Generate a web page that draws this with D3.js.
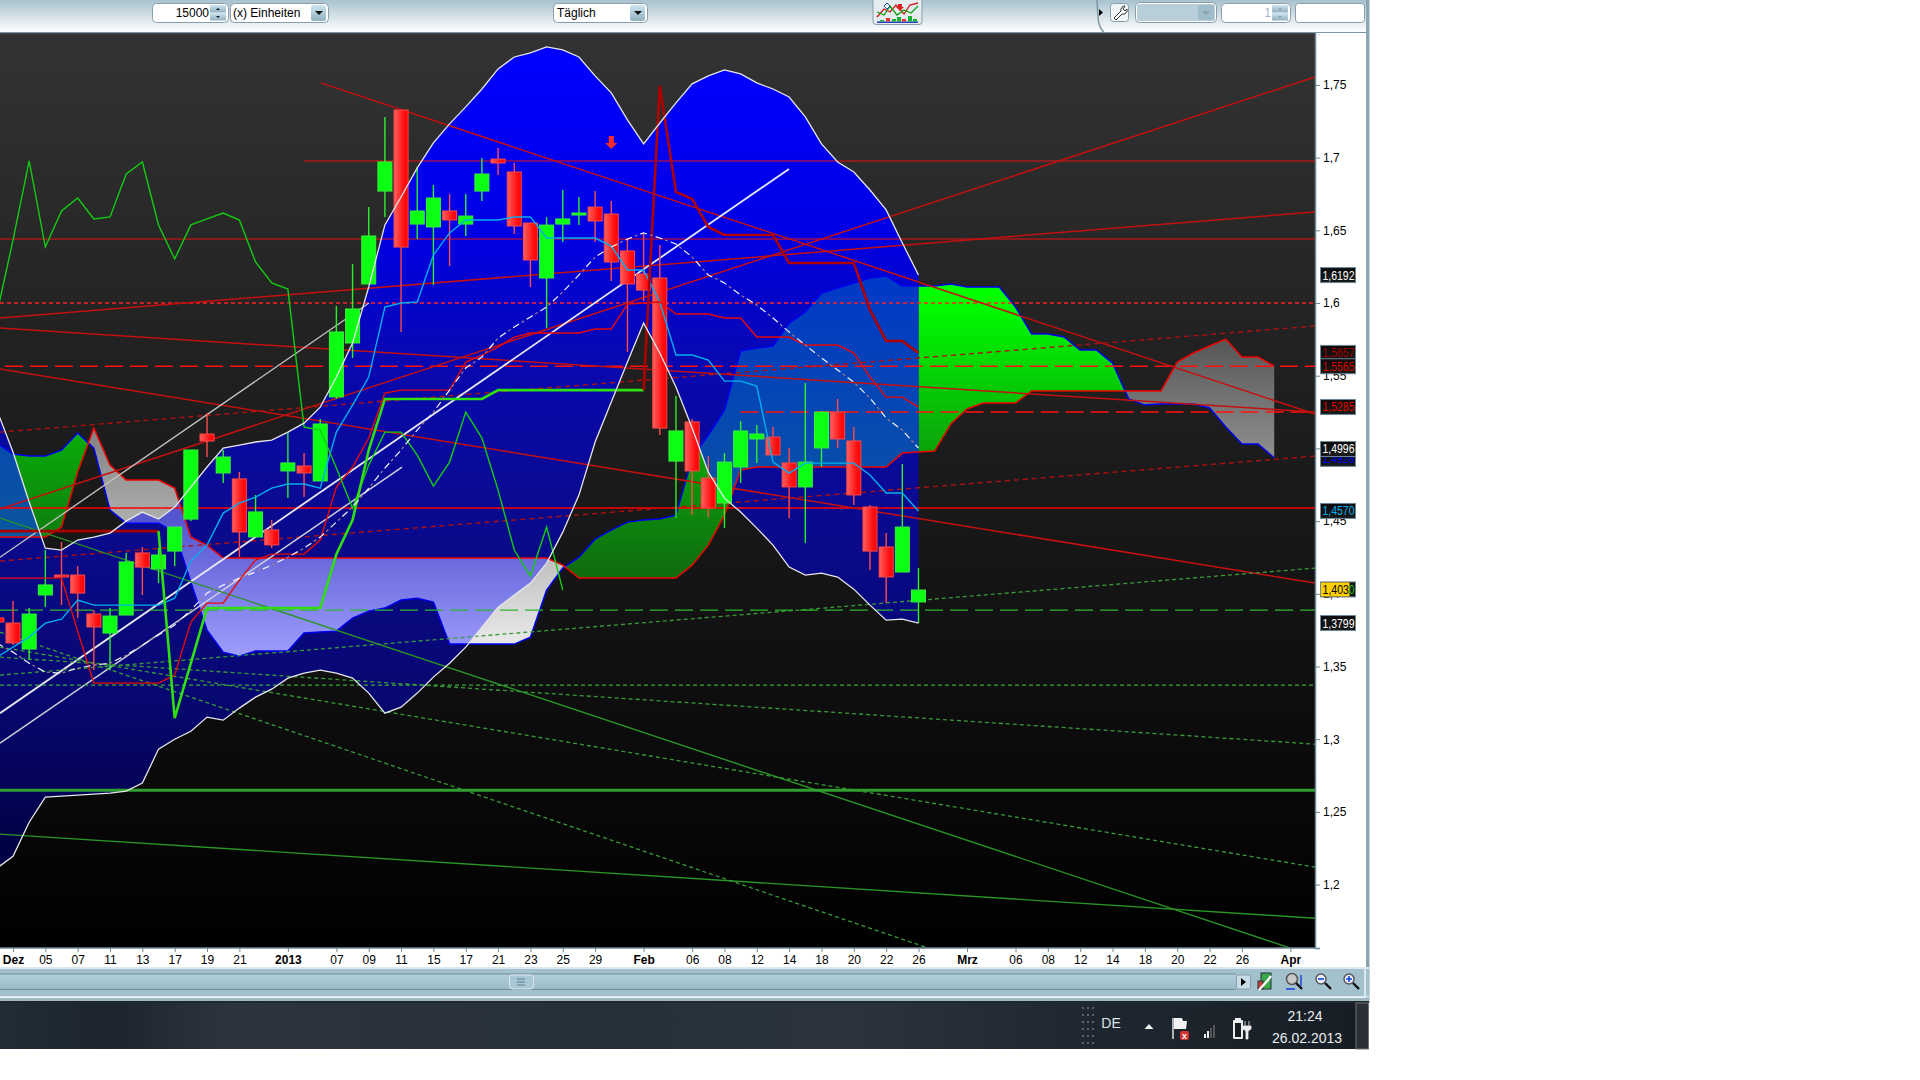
<!DOCTYPE html>
<html><head><meta charset="utf-8">
<style>html,body{margin:0;padding:0;background:#fff;overflow:hidden}svg{display:block;font-family:"Liberation Sans",Arial,sans-serif}</style>
<script src="https://cdn.jsdelivr.net/npm/d3@7/dist/d3.min.js"></script>
</head><body><svg id="c" width="1920" height="1080"></svg>
<script>
// ---------- data: daily candles, first index -1 ----------
const firstIdx=-1;
const open=[1.3834,1.3799,1.3620,1.3992,1.4129,1.4129,1.3861,1.3730,1.3854,1.4281,1.4171,1.4294,1.4514,1.5099,1.4831,1.4790,1.4391,1.4439,1.4845,1.4879,1.4776,1.5354,1.5725,1.6131,1.6770,1.7327,1.6543,1.6523,1.6633,1.6543,1.6770,1.6990,1.6901,1.6550,1.6172,1.6543,1.6612,1.6660,1.6612,1.6358,1.6199,1.6172,1.4913,1.5182,1.4796,1.4624,1.4872,1.5065,1.5078,1.4900,1.4735,1.5003,1.5250,1.5051,1.4597,1.4322,1.4150,1.3944];
const high=[1.3834,1.3950,1.3902,1.4301,1.4356,1.4191,1.3889,1.3902,1.4281,1.4322,1.4315,1.4459,1.4989,1.5243,1.4989,1.4838,1.4680,1.4508,1.5113,1.4968,1.5202,1.5979,1.6268,1.6660,1.7279,1.7327,1.6935,1.6812,1.6750,1.6750,1.6997,1.7066,1.6963,1.6550,1.6591,1.6777,1.6729,1.6770,1.6702,1.6447,1.6475,1.6399,1.5360,1.5202,1.4948,1.4968,1.5188,1.5161,1.5147,1.5003,1.5450,1.5257,1.5340,1.5147,1.4611,1.4418,1.4893,1.4177];
const low=[1.3806,1.3648,1.3545,1.3909,1.3923,1.3834,1.3476,1.3476,1.3854,1.3992,1.4074,1.4191,1.4501,1.4941,1.4762,1.4253,1.4391,1.4315,1.4659,1.4666,1.4776,1.5340,1.5622,1.6131,1.6591,1.5801,1.6440,1.6124,1.6254,1.6461,1.6702,1.6880,1.6475,1.6110,1.5828,1.6420,1.6536,1.6420,1.6151,1.5663,1.6014,1.5092,1.4521,1.4542,1.4528,1.4453,1.4762,1.4900,1.4955,1.4521,1.4349,1.4872,1.5003,1.4611,1.4164,1.3937,1.4150,1.3799];
const close=[1.3806,1.3662,1.3861,1.4061,1.4116,1.4005,1.3772,1.3847,1.4219,1.4184,1.4267,1.4459,1.4989,1.5051,1.4941,1.4425,1.4563,1.4336,1.4900,1.4831,1.5168,1.5801,1.5959,1.6461,1.6970,1.6385,1.6633,1.6722,1.6571,1.6598,1.6887,1.6963,1.6530,1.6296,1.6536,1.6578,1.6619,1.6564,1.6282,1.6131,1.6089,1.5140,1.5120,1.4845,1.4590,1.4906,1.5120,1.5099,1.4955,1.4735,1.4906,1.5250,1.5065,1.4680,1.4294,1.4116,1.4459,1.4026];
const upper=[1.5264,1.4975,1.4631,1.4314,1.4301,1.4370,1.4390,1.4418,1.4500,1.4562,1.4514,1.4597,1.4734,1.4872,1.5002,1.5023,1.5044,1.5057,1.5112,1.5174,1.5284,1.5491,1.5725,1.6110,1.6537,1.6729,1.6929,1.7101,1.7232,1.7349,1.7472,1.7610,1.7692,1.7720,1.7761,1.7741,1.7692,1.7562,1.7445,1.7259,1.7094,1.7238,1.7376,1.7507,1.7562,1.7603,1.7576,1.7514,1.7472,1.7417,1.7280,1.7094,1.6970,1.6901,1.6777,1.6640,1.6413,1.6193];
const lower=[1.2113,1.2195,1.2429,1.2601,1.2608,1.2615,1.2622,1.2629,1.2643,1.2698,1.2932,1.3000,1.3055,1.3152,1.3131,1.3214,1.3289,1.3344,1.3420,1.3454,1.3475,1.3454,1.3420,1.3317,1.3179,1.3220,1.3317,1.3427,1.3523,1.3633,1.3771,1.3908,1.3991,1.4074,1.4211,1.4424,1.4679,1.5044,1.5319,1.5594,1.5862,1.5656,1.5422,1.5140,1.4837,1.4658,1.4562,1.4452,1.4335,1.4184,1.4129,1.4142,1.4115,1.4032,1.3922,1.3819,1.3826,1.3798];
const senkouA=[1.5037,1.4961,1.4947,1.4947,1.4989,1.5106,1.5002,1.4576,1.4486,1.4486,1.4486,1.4424,1.4080,1.3750,1.3599,1.3571,1.3606,1.3606,1.3606,1.3730,1.3737,1.3743,1.3833,1.3881,1.3902,1.3957,1.3970,1.3943,1.3654,1.3654,1.3654,1.3654,1.3654,1.3702,1.4025,1.4177,1.4252,1.4376,1.4438,1.4493,1.4507,1.4514,1.4541,1.4934,1.5092,1.5264,1.5670,1.5690,1.5704,1.5862,1.5938,1.6069,1.6103,1.6138,1.6172,1.6186,1.6117,1.6117,1.6117,1.6131,1.6110,1.6110,1.6110,1.5972,1.5787,1.5787,1.5766,1.5677,1.5677,1.5587,1.5340,1.5298,1.5305,1.5305,1.5305,1.5278,1.5147,1.5030,1.5030,1.4934];
const senkouB=[1.4390,1.4390,1.4390,1.4390,1.4459,1.4837,1.5140,1.4885,1.4782,1.4782,1.4782,1.4727,1.4390,1.4335,1.4246,1.4246,1.4246,1.4246,1.4246,1.4246,1.4246,1.4246,1.4246,1.4246,1.4246,1.4246,1.4246,1.4246,1.4246,1.4246,1.4246,1.4246,1.4246,1.4246,1.4246,1.4197,1.4108,1.4108,1.4108,1.4108,1.4108,1.4108,1.4108,1.4197,1.4335,1.4541,1.4851,1.4872,1.4872,1.4872,1.4872,1.4872,1.4872,1.4872,1.4872,1.4872,1.4968,1.4975,1.4982,1.5168,1.5271,1.5312,1.5312,1.5312,1.5395,1.5395,1.5395,1.5395,1.5395,1.5395,1.5395,1.5395,1.5395,1.5594,1.5656,1.5704,1.5752,1.5628,1.5628,1.5567];
const tenkan=[1.3564,1.3633,1.3702,1.3798,1.3826,1.3957,1.3922,1.3922,1.3922,1.3922,1.3922,1.3970,1.4225,1.4335,1.4555,1.4624,1.4665,1.4727,1.4755,1.4755,1.4727,1.5112,1.5298,1.5491,1.5972,1.6000,1.6007,1.6330,1.6482,1.6571,1.6571,1.6571,1.6592,1.6592,1.6447,1.6447,1.6447,1.6447,1.6392,1.6227,1.6227,1.6007,1.5642,1.5642,1.5608,1.5463,1.5463,1.5429,1.4906,1.4830,1.4899,1.4899,1.4899,1.4899,1.4817,1.4693,1.4693,1.4569];
const kijun=[1.4108,1.4108,1.4108,1.4108,1.4108,1.3743,1.3386,1.3386,1.3386,1.3386,1.3386,1.3441,1.3805,1.3936,1.3936,1.4094,1.4232,1.4273,1.4273,1.4273,1.4370,1.4734,1.4872,1.5071,1.5381,1.5401,1.5401,1.5401,1.5401,1.5594,1.5642,1.5697,1.5766,1.5794,1.5794,1.5794,1.5794,1.5821,1.5821,1.5993,1.6000,1.6007,1.5924,1.5924,1.5924,1.5897,1.5897,1.5766,1.5766,1.5766,1.5711,1.5711,1.5711,1.5656,1.5491,1.5353,1.5353,1.5284];
const stepLine=[1.4431,1.4431,1.4431,1.4431,1.4431,1.4431,1.4431,1.4431,1.4431,1.4431,1.4431,1.3145,1.3523,1.3902,1.3902,1.3902,1.3902,1.3902,1.3902,1.3902,1.3902,1.4273,1.4507,1.4989,1.5340,1.5340,1.5340,1.5340,1.5340,1.5340,1.5340,1.5401,1.5401,1.5401,1.5401,1.5401,1.5401,1.5401,1.5401,1.5401,1.5401,1.7493,1.6764,1.6716,1.6523,1.6468,1.6468,1.6468,1.6468,1.6275,1.6275,1.6275,1.6275,1.6275,1.5952,1.5739,1.5739,1.5656];
const stepGreenFrom=9, stepGreenTo=39;
const thinGreen=[1.5924,1.6433,1.6977,1.6385,1.6633,1.6722,1.6578,1.6592,1.6888,1.6970,1.6537,1.6303,1.6537,1.6578,1.6619,1.6571,1.6282,1.6138,1.6096,1.5147,1.5126,1.4865,1.4590,1.4885,1.5112,1.5112,1.4954,1.4741,1.4906,1.5250,1.5071,1.4713,1.4301,1.4122,1.4459,1.4025];
const whiteDash=[1.3661,1.3599,1.3523,1.3461,1.3454,1.3489,1.3509,1.3523,1.3578,1.3647,1.3716,1.3785,1.3888,1.4005,1.4060,1.4108,1.4150,1.4197,1.4252,1.4314,1.4390,1.4493,1.4597,1.4727,1.4865,1.4989,1.5126,1.5250,1.5401,1.5553,1.5628,1.5759,1.5835,1.5904,1.5972,1.6076,1.6193,1.6316,1.6385,1.6440,1.6482,1.6447,1.6406,1.6316,1.6193,1.6138,1.6055,1.5986,1.5897,1.5800,1.5711,1.5622,1.5539,1.5456,1.5346,1.5209,1.5126,1.5002];

// trend lines: [index0, price0, index1, price1]
const L=-0.804, R=80.52;
const redTrends=[[19.05,1.7514,R,1.5236],[L,1.4583,R,1.7555],[L,1.5897,R,1.6626],[L,1.5828,R,1.5250],[L,1.5546,R,1.4074]];
const redDotted=[[L,1.5112,R,1.5842],[L,1.4225,R,1.4947]];
const whiteTrends=[[L,1.4252,22.02,1.6000],[L,1.3179,47.99,1.6922],[L,1.2973,24.06,1.4872]];
const greenTrends=[[L,1.4521,79.04,1.1562],[L,1.2347,R,1.1769]];
const greenDotted=[[L,1.3564,R,1.2966],[L,1.3633,R,1.2120],[L,1.3736,56.65,1.1562],[L,1.3441,R,1.4177]];
// horizontal levels: [start index, price]
const redSolidH=[[18,1.6977],[L,1.6440]];
const redStrongH=[[L,1.4590]];
const redDotH=[[L,1.6000]];
const redLongDash=[[-0.5,1.5565],[45,1.5250]];
const greenThickH=[1.2649], greenLongDash=[1.3888], greenDotH=[1.3372];
const arrowIdx=37, arrowPrice=1.7060;

const yTicks=[1.2,1.25,1.3,1.35,1.4,1.45,1.5,1.55,1.6,1.65,1.7,1.75];
const xTickIdx=[0,2,4,6,8,10,12,14,17,20,22,24,26,28,30,32,34,36,39,42,44,46,48,50,52,54,56,59,62,64,66,68,70,72,74,76,79];
const xTickLab=["Dez","05","07","11","13","17","19","21","2013","07","09","11","15","17","21","23","25","29","Feb","06","08","12","14","18","20","22","26","Mrz","06","08","12","14","18","20","22","26","Apr"];
const boldLab=["Dez","2013","Feb","Mrz","Apr"];
// price tags
const tagPrices=[1.6192,1.5657,1.5565,1.5285,1.4928,1.4996,1.4570,1.3799];
const tagColors=["#ffffff","#a00000","#d80000","#e40000","#0000ff","#ffffff","#00b0f0","#ffffff"];
const lastTag=1.4030;

// ---------- layout ----------
const PW=1315, PT=33, PB=948;
const x=d3.scaleLinear().domain([0,56]).range([13,918.5]);
const y=d3.scaleLinear().domain([1.1564,1.7857]).range([PB,PT]);
const svg=d3.select("#c");
const defs=svg.append("defs");
function grad(id,stops,o={}){const g=defs.append("linearGradient").attr("id",id);
  if(o.user){g.attr("gradientUnits","userSpaceOnUse").attr("x1",0).attr("x2",0).attr("y1",o.y1).attr("y2",o.y2)}
  else if(o.h){g.attr("x1",0).attr("x2",1).attr("y1",0).attr("y2",0)}
  else{g.attr("x1",0).attr("x2",0).attr("y1",0).attr("y2",1)}
  stops.forEach(s=>g.append("stop").attr("offset",s[0]).attr("stop-color",s[1]));return `url(#${id})`}
const gBg=grad("bg",[[0,"#333333"],[1,"#000000"]]);
const gBand=grad("band",[[0,"#0000ff"],[.03,"#0000ff"],[.22,"#0000e4"],[.36,"#0808b0"],[.52,"#0a0a90"],[.73,"#070770"],[.91,"#000040"],[1,"#000030"]],{user:1,y1:PT,y2:PB});
const gGreen=grad("gr",[[0,"#00ff00"],[.53,"#0aa50a"],[1,"#106a10"]],{user:1,y1:300,y2:580});
const gGrey=grad("gy",[[0,"#000000"],[1,"#ffffff"]],{user:1,y1:160,y2:690});
const gGreenIn=grad("gri",[[0,"#0038c8"],[1,"#0a55a0"]],{user:1,y1:270,y2:530});
const gGreyIn=grad("gyi",[[0,"#5555d0"],[1,"#a0a0ff"]],{user:1,y1:520,y2:660});
const gRed=grad("cr",[[0,"#ff6060"],[.7,"#ff1010"],[1,"#ff0000"]],{h:1});
const gTop=grad("top",[[0,"#a8c2cf"],[1,"#ffffff"]]);
const gBtn=grad("btn",[[0,"#d0e6f0"],[1,"#8fb0c0"]]);
const gBar=grad("bar",[[0,"#b2d0dc"],[1,"#9ab9c6"]]);
const gTag=grad("tag",[[0,"#0a0a0a"],[1,"#1a1a1a"]]);
const gTask=grad("task",[[0,"#222c36"],[.08,"#1c252d"],[.17,"#2c343e"],[.45,"#26303a"],[.62,"#2b343e"],[.8,"#1e2730"],[1,"#171d24"]],{h:1});

svg.append("rect").attr("width",1920).attr("height",1080).attr("fill","#fff");
svg.append("rect").attr("x",0).attr("y",PT).attr("width",PW).attr("height",PB-PT).attr("fill",gBg);
defs.append("clipPath").attr("id","plot").append("rect").attr("x",0).attr("y",PT).attr("width",PW).attr("height",PB-PT);
const P=svg.append("g").attr("clip-path","url(#plot)");

const idx=a=>a.map((v,k)=>[k+firstIdx,v]);
const ln=d3.line().x(d=>x(d[0])).y(d=>y(d[1]));
function seg(g,list,color,w,dash,op){g.selectAll(null).data(list).join("line")
  .attr("x1",d=>x(d[0])).attr("y1",d=>y(d[1])).attr("x2",d=>x(d[2])).attr("y2",d=>y(d[3]))
  .attr("stroke",color).attr("stroke-width",w).attr("stroke-dasharray",dash||null).attr("opacity",op||1)}
function hl(g,list,color,w,dash){g.selectAll(null).data(list).join("line")
  .attr("x1",d=>x(d[0])).attr("x2",PW).attr("y1",d=>y(d[1])).attr("y2",d=>y(d[1]))
  .attr("stroke",color).attr("stroke-width",w).attr("stroke-dasharray",dash||null)}

// cloud segments split at the crossings of span A and span B
function cloudSegs(){const out=[];let cur=null;
  for(let k=0;k<senkouA.length;k++){const p={i:k+firstIdx,a:senkouA[k],b:senkouB[k]};const up=p.a>=p.b;
    if(!cur){cur={up,pts:[p]};out.push(cur);continue}
    if(up!==cur.up){const q=cur.pts[cur.pts.length-1],d0=q.a-q.b,d1=p.a-p.b,t=d0/(d0-d1);
      const c={i:q.i+t,a:q.a+(p.a-q.a)*t,b:q.b+(p.b-q.b)*t};cur.pts.push(c);cur={up,pts:[c,p]};out.push(cur)}
    else cur.pts.push(p)}
  return out}
const segs=cloudSegs();
const cloudArea=d3.area().x(d=>x(d.i)).y0(d=>y(d.b)).y1(d=>y(d.a));
P.append("g").selectAll("path").data(segs).join("path").attr("d",d=>cloudArea(d.pts)).attr("fill",d=>d.up?gGreen:gGrey);

// bollinger band
const bandData=upper.map((u,k)=>({i:k+firstIdx,u,l:lower[k]}));
const bandArea=d3.area().x(d=>x(d.i)).y0(d=>y(d.l)).y1(d=>y(d.u));
P.append("path").attr("d",bandArea(bandData)).attr("fill",gBand);
defs.append("clipPath").attr("id","bandClip").append("path").attr("d",bandArea(bandData));
P.append("g").attr("clip-path","url(#bandClip)").selectAll("path").data(segs).join("path").attr("d",d=>cloudArea(d.pts)).attr("fill",d=>d.up?gGreenIn:gGreyIn);
P.append("path").attr("d",ln(idx(senkouA))).attr("fill","none").attr("stroke","#0000f0").attr("stroke-width",1.5);
P.append("path").attr("d",ln(idx(senkouB))).attr("fill","none").attr("stroke","#f00000").attr("stroke-width",1.5);

// trend lines and levels behind the candles
const T=P.append("g");
hl(T,redSolidH,"#e81010",1.1); hl(T,redStrongH,"#ff0000",1.3);
hl(T,redDotH,"#ff2020",1.3,"4,3"); hl(T,redLongDash,"#ff1010",1.4,"18,7");
seg(T,redTrends,"#c41010",1.5); seg(T,redDotted,"#b01010",1.4,"5,4");
seg(T,whiteTrends.slice(0,1),"#c4c4c4",1.3); seg(T,whiteTrends.slice(1,2),"#e8e8f0",1.8); seg(T,whiteTrends.slice(2),"#d0d0dc",1.5);
seg(T,greenTrends,"#2a9426",1.4); seg(T,greenDotted,"#3a9a3a",1.3,"4,3");
T.selectAll(null).data(greenThickH).join("line").attr("x1",0).attr("x2",PW).attr("y1",d=>y(d)).attr("y2",d=>y(d)).attr("stroke","#2f9f2f").attr("stroke-width",3);
T.selectAll(null).data(greenLongDash).join("line").attr("x1",0).attr("x2",PW).attr("y1",d=>y(d)).attr("y2",d=>y(d)).attr("stroke","#2cb62c").attr("stroke-width",1.3).attr("stroke-dasharray","18,7");
T.selectAll(null).data(greenDotH).join("line").attr("x1",0).attr("x2",PW).attr("y1",d=>y(d)).attr("y2",d=>y(d)).attr("stroke","#3aa83a").attr("stroke-width",1.2).attr("stroke-dasharray","4,3");

// candles
const candles=open.map((o,k)=>({i:k+firstIdx,o,h:high[k],l:low[k],c:close[k],up:close[k]>=o}));
const C=P.append("g").selectAll("g").data(candles).join("g");
C.append("line").attr("x1",d=>x(d.i)).attr("x2",d=>x(d.i)).attr("y1",d=>y(d.h)).attr("y2",d=>y(d.l))
  .attr("stroke",d=>d.up?"#2cf02c":"#ff4a4a").attr("stroke-width",1.4);
C.append("rect").attr("x",d=>x(d.i)-7).attr("width",14)
  .attr("y",d=>y(Math.max(d.o,d.c))).attr("height",d=>Math.max(2,Math.abs(y(d.o)-y(d.c))))
  .attr("fill",d=>d.up?"#0bff12":gRed).attr("stroke",d=>d.up?"#39f03c":"#ff4848").attr("stroke-width",1);

// indicator lines above the candles
const I=P.append("g").attr("fill","none");
I.append("path").attr("d",ln(idx(tenkan))).attr("stroke","#00aeef").attr("stroke-width",1.4);
I.append("path").attr("d",ln(idx(kijun))).attr("stroke","#e80808").attr("stroke-width",1.4);
I.append("path").attr("d",ln(idx(thinGreen))).attr("stroke","#12cc12").attr("stroke-width",1.4);
const sd=idx(stepLine);
I.append("path").attr("d",ln(sd.filter(d=>d[0]<=stepGreenFrom))).attr("stroke","#a80000").attr("stroke-width",2.6);
I.append("path").attr("d",ln(sd.filter(d=>d[0]>=stepGreenFrom&&d[0]<=stepGreenTo))).attr("stroke","#2ee010").attr("stroke-width",2.6);
I.append("path").attr("d",ln(sd.filter(d=>d[0]>=stepGreenTo))).attr("stroke","#b00000").attr("stroke-width",2.6);
I.append("path").attr("d",ln(idx(upper))).attr("stroke","#e6e6ea").attr("stroke-width",1.3);
I.append("path").attr("d",ln(idx(lower))).attr("stroke","#e6e6ea").attr("stroke-width",1.3);
I.append("path").attr("d",ln(idx(whiteDash))).attr("stroke","#f4f4f8").attr("stroke-width",1.2).attr("stroke-dasharray","7,9");
I.append("path").attr("d",ln(idx(whiteDash))).attr("stroke","#a07c8c").attr("stroke-width",1.2).attr("stroke-dasharray","3,13").attr("stroke-dashoffset",-10);
// signal arrow
P.append("path").attr("transform",`translate(${x(arrowIdx)},${y(arrowPrice)})`)
  .attr("d","M0,0L-6,-6L-2.5,-6L-2.5,-13L2.5,-13L2.5,-6L6,-6Z").attr("fill","#ff2a2a");

// ---------- axes ----------
const axC="#6d8896";
const gy=svg.append("g").attr("transform",`translate(${PW},0)`).call(d3.axisRight(y).tickValues(yTicks).tickSize(5).tickPadding(3).tickFormat(d=>String(+d.toFixed(2)).replace(".",",")));
gy.select(".domain").attr("stroke",axC).attr("stroke-width",1.5);
gy.selectAll(".tick line").attr("stroke",axC);
gy.selectAll(".tick text").attr("fill","#000").attr("font-size",12).attr("font-family","Liberation Sans");
const gx=svg.append("g").attr("transform",`translate(0,${PB})`).call(d3.axisBottom(x).tickValues(xTickIdx).tickSize(4).tickPadding(3).tickFormat((d,k)=>xTickLab[k]));
gx.select(".domain").attr("d",`M0,0H${PW}`).attr("stroke",axC).attr("stroke-width",1.5);
gx.selectAll(".tick line").attr("stroke",axC);
gx.selectAll(".tick text").attr("fill","#000").attr("font-size",12).attr("font-family","Liberation Sans")
  .attr("font-weight",(d,k)=>boldLab.includes(xTickLab[k])?"bold":"normal");

// price tags
const tagG=svg.append("g");
const tags=tagPrices.map((p,k)=>({p,c:tagColors[k]}));
const tg=tagG.selectAll("g").data(tags).join("g").attr("transform",d=>`translate(1320.5,${y(d.p)})`);
tg.append("rect").attr("y",-7.5).attr("width",35).attr("height",15).attr("fill",gTag).attr("stroke",axC);
tg.append("text").attr("x",2).attr("y",4.5).attr("font-size",12).attr("fill",d=>d.c).attr("textLength",32).attr("lengthAdjust","spacingAndGlyphs").text(d=>d.p.toFixed(4).replace(".",","));
const lt=tagG.append("g").attr("transform",`translate(1320.5,${y(lastTag)})`);
lt.append("rect").attr("y",-7.5).attr("width",35).attr("height",15).attr("fill","#111").attr("stroke",axC);
lt.append("rect").attr("x",.5).attr("y",-7).attr("width",28.5).attr("height",14).attr("fill","#ffd000");
lt.append("text").attr("x",2).attr("y",4.5).attr("font-size",12).attr("fill","#000").attr("textLength",26.5).attr("lengthAdjust","spacingAndGlyphs").text(lastTag.toFixed(3).replace(".",","));
lt.append("text").attr("x",28.5).attr("y",4.5).attr("font-size",12).attr("fill","#10d010").attr("textLength",5.5).attr("lengthAdjust","spacingAndGlyphs").text("0");

// ---------- window chrome ----------
const U=svg.append("g");
const R_=(x0,y0,w,h,f,s,r)=>U.append("rect").attr("x",x0).attr("y",y0).attr("width",w).attr("height",h).attr("fill",f).attr("stroke",s||"none").attr("rx",r||0);
const Tx=(t,x0,y0,sz,c,an,w)=>U.append("text").attr("x",x0).attr("y",y0).attr("font-size",sz).attr("fill",c).attr("text-anchor",an||"start").attr("font-weight",w||"normal").text(t);
const Pth=(d,f,s,sw)=>U.append("path").attr("d",d).attr("fill",f||"none").attr("stroke",s||"none").attr("stroke-width",sw||1);
R_(0,0,1369,32,gTop); R_(0,32,1369,1.2,"#7d96a3"); R_(1316,33,50,1,"#fff");
R_(1366,0,3.5,1003,"#8ba5b3");
const drop=(x0,w)=>{R_(x0+.5,3.5,w,19,"#fff","#8a9eaa",4);R_(x0+w-17,5,15,16,gBtn,null,2);Pth(`M${x0+w-13},11h8l-4,4z`,"#111")};
const spin=(x0,w,val,col)=>{R_(x0+.5,3.5,w,19,"#fff","#8a9eaa",4);R_(x0+w-18,5,16,7.5,gBtn);R_(x0+w-18,13,16,7.5,gBtn);Pth(`M${x0+w-12},10l2,-2l2,2z M${x0+w-12},16l2,2l2,-2z`,col);Tx(val,x0+w-19,17,12,col=="#111"?"#000":"#a8b4c0","end")};
spin(152,76,"15000","#111");
drop(230,98); Tx("(x) Einheiten",233,17,12,"#000");
drop(553,94); Tx("Täglich",557,17,12,"#000");
// indicator button
R_(873,-2,49,26.5,"#e4ecef","#8a9eaa",3);
Pth("M877,17L884,9L890,12L896,5L904,14L910,5L918,3","none","#d01818",1.3);
Pth("M877,12L884,15L890,6L897,15L904,10L911,13L918,6","none","#10a010",1.3);
R_(877,21.5,41,1.4,"#1030c0");
[[880,20,4],[886,18,4],[892,19,4],[897,17,4],[902,19,4],[908,16,4],[913,19,4]].forEach((b,k)=>R_(b[0],b[1],b[2],21.5-b[1],k%3==1?"#ee3030":"#18b030"));
Pth("M884,6l3,-3l3,3l-3,3z","#fff","#1850c0",1);
Pth("M898,4h4v3h2l-4,4l-4,-4h2z","#e02020");
Pth("M1097,0C1098,14 1097,27 1104,32","none","#7d96a3",1.5);
Pth("M1099,9l4,3.5l-4,3.5z","#000");
R_(1110.5,3.5,18,18,"#f0f5f7","#8a9eaa",3);
Pth("M1114,18l7,-7a4,4 0 0 1 4,-5l-2,3l2,2l2,-2a4,4 0 0 1 -5,5l-6,6z","#fff","#333",1);
R_(1135.5,2.5,81,20,"#fff","#8a9eaa",4); R_(1137,4,78,17,"#b8ced8",null,2); R_(1198,5,16,15,"#9fbccb",null,2); Pth("M1202,11h8l-4,4z","#8aa0ac");
spin(1221,69,"1","#8a98a4");
R_(1295.5,3.5,69,19,"#fff","#8a9eaa",3);

// bottom scroll band
R_(0,967,1369,29.5,"#a3c0cd"); R_(0,967,1369,2,"#dbe9ef");R_(0,974,1236,15,gBar);
R_(0,973.5,1236,1,"#728c99");R_(0,989,1236,1,"#728c99");R_(0,996,1369,1.5,"#dbe9ef");R_(0,998,1369,3,"#9fb8c4");
R_(1364,969,2,28,"#dbe9ef");
R_(509.5,975,24,14,"#a9c8d6","#dbe9ef",3);
[979,982,985].forEach(v=>R_(517,v-.5,8,1,"#607a88"));
R_(1236.5,975,14,14,"#c8dde6","#88a0ac",2); Pth("M1241,978l5,4l-5,4z","#000");
// tool icons
R_(1261,973,10,16,"#3aa84a","#233",0);R_(1258,981,5,8,"#c04040","#333");Pth("M1259,990l9,-10l3,-4","none","#fff",2.2);
U.append("circle").attr("cx",1292).attr("cy",979).attr("r",5.5).attr("fill","#c8c8c8").attr("stroke","#555").attr("stroke-width",1.5);Pth("M1296,983l6,6","none","#111",2.4);
Pth("M1301,975v11M1286,989h9","none","#1040e0",1.4);
U.append("circle").attr("cx",1321).attr("cy",979).attr("r",5).attr("fill","#eef").attr("stroke","#555").attr("stroke-width",1.4);Pth("M1325,983l6,6","none","#111",2.4);Pth("M1318,979h6","none","#1040e0",1.6);
U.append("circle").attr("cx",1349).attr("cy",979).attr("r",5).attr("fill","#eef").attr("stroke","#555").attr("stroke-width",1.4);Pth("M1353,983l6,6","none","#111",2.4);Pth("M1346,979h6M1349,976v6","none","#1040e0",1.6);

// task bar
R_(0,1001,1369,2,"#20282e");R_(0,1003,1369,46,gTask);
d3.range(6).forEach(r=>[1082,1087,1092].forEach(c=>R_(c,1007+r*7,2,2,"#5c656e")));
Tx("DE",1111,1028,14,"#dfe4e8","middle");
Pth("M1144.5,1029l4.5,-5l4.5,5z","#f0f0f0");
Pth("M1173,1018v21","none","#eee",1.4);Pth("M1174,1018h8l1,3h4l-1,8h-12z","#f4f4f4");
R_(1180,1031,9,9,"#d83030",null,2);Tx("x",1184.5,1038.5,9,"#fff","middle","bold");
[[1204,1034,2,4],[1207,1031,2,7],[1210,1028,2,10],[1213,1025,2,13]].forEach((b,k)=>R_(b[0],b[1],b[2],b[3],k<2?"#eee":"#555"));
R_(1233,1020,10,19,"#eee",null,1);R_(1235,1023,6,14,"#161c22");R_(1235,1018,6,2,"#eee");Pth("M1245,1021v5M1249,1021v5M1243,1026h8v3l-3,2v8h-2v-8l-3,-2z","#eee","#eee",.8);
Tx("21:24",1305,1021,14,"#eceff2","middle");
Tx("26.02.2013",1307,1043,14,"#eceff2","middle");
R_(1356,1003,12.5,46,"#2a2f35","#6a7278");
</script></body></html>
